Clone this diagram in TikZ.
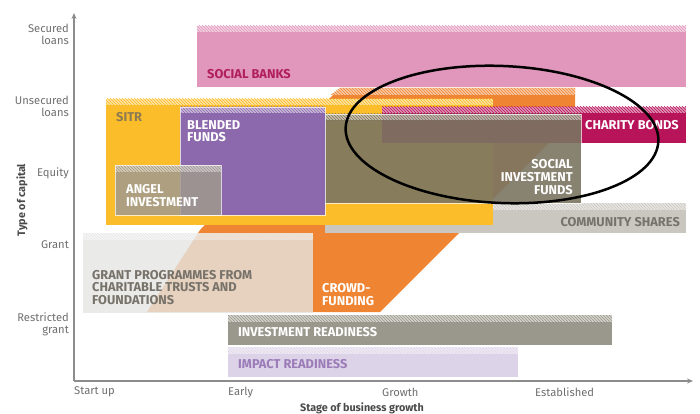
\documentclass[tikz,border=0pt]{standalone}
\usepackage{fontspec}
\setmainfont{Fira Sans}
\usetikzlibrary{patterns,arrows.meta}

\definecolor{bankpink}{HTML}{E196BC}
\definecolor{bankred}{HTML}{B01F5C}
\definecolor{crowdorange}{HTML}{EF8533}
\definecolor{sitryellow}{HTML}{FCBD2A}
\definecolor{sitrtext}{HTML}{8C7B52}
\definecolor{blendpurple}{HTML}{8C69AC}
\definecolor{angelgray}{HTML}{A09A8E}
\definecolor{sifgray}{HTML}{7B7562}
\definecolor{bondred}{HTML}{B8145A}
\definecolor{sharegray}{HTML}{C9C7BF}
\definecolor{sharetext}{HTML}{77736A}
\definecolor{grantgray}{HTML}{E5E5E3}
\definecolor{granttext}{HTML}{77736A}
\definecolor{readygray}{HTML}{9A988C}
\definecolor{impactlilac}{HTML}{DDD3E8}
\definecolor{impacttext}{HTML}{9B7CB8}
\definecolor{axisgray}{HTML}{8C8C8C}
\definecolor{axistext}{HTML}{6E6E6E}
\definecolor{titletext}{HTML}{4A4A4A}

% box with a hatched band along its top edge
% #1,#2 = top-left, #3,#4 = bottom-right, #5 = colour, #6 = opacity
\newcommand\capbox[6]{%
  \fill[#5, fill opacity=#6] (#1,#2+6.5) rectangle (#3,#4);
  \fill[#5!45!white, fill opacity=#6] (#1,#2) rectangle (#3,#2+6.5);
  \fill[pattern=north west lines, pattern color=#5, fill opacity=#6] (#1,#2) rectangle (#3,#2+6.5);
}

\begin{document}
\begin{tikzpicture}[x=1pt,y=-1pt,
  tag/.style={font=\bfseries\fontsize{12.8}{12.6}\selectfont, inner sep=0pt, align=left, anchor=west},
  tagr/.style={font=\bfseries\fontsize{12.8}{12.6}\selectfont, inner sep=0pt, align=right, anchor=east},
  ylab/.style={font=\fontsize{11.2}{12}\selectfont, text=axistext, inner sep=0pt, align=right, anchor=east},
  xlab/.style={font=\fontsize{11.2}{12}\selectfont, text=axistext, inner sep=0pt, anchor=west},
  axistitle/.style={font=\bfseries\fontsize{10.8}{12}\selectfont, text=titletext, inner sep=0pt},
  axis/.style={draw=axisgray, line width=1.1pt, -{Stealth[length=6pt,width=5pt]}},
  edge/.style={draw=white, line width=0.6pt, draw opacity=0.7}]
\useasboundingbox (0,0) rectangle (700,414);

% social banks
\capbox{197}{26}{686}{87}{bankpink}{1}

% crowdfunding band
\fill[crowdorange] (340,88) -- (575,88) -- (575,117) -- (380,312) -- (147,312) -- (200,230) -- cycle;
\begin{scope}
  \clip (340,88) -- (575,88) -- (575,117) -- (300,117) -- cycle;
  \fill[crowdorange!45!white] (300,88) rectangle (575,95);
  \fill[pattern=north west lines, pattern color=crowdorange] (300,88) rectangle (575,95);
\end{scope}

% community shares
\capbox{325}{203}{686}{233}{sharegray}{1}

% SITR
\capbox{106}{99}{493}{225}{sitryellow}{1}

% charity bonds
\capbox{382}{107}{686}{143}{bondred}{1}

% blended funds
\capbox{180}{107}{325}{215}{blendpurple}{1}
\draw[edge] (180,107) rectangle (325,215);

% social investment funds
\capbox{325}{114}{581}{203}{sifgray}{0.9}
\draw[edge] (325,114) rectangle (581,203);

% angel investment
\capbox{115}{165}{221}{215}{angelgray}{0.85}
\draw[edge] (115,165) rectangle (221,215);

% grant programmes
\capbox{83}{233}{313}{313}{grantgray}{0.8}

% readiness programmes
\capbox{228}{315}{612}{345}{readygray}{1}
\capbox{228}{347}{518}{377}{impactlilac}{1}

% labels on the boxes
\node[tag, text=bankred] (sb) at (207,74) {SOCIAL BANKS};
\node[tag, text=sitrtext] (sitr) at (116,117) {SITR};
\node[tag, text=white] (bf) at (187,131) {BLENDED\\FUNDS};
\node[tag, text=white] (ai) at (126,195.5) {ANGEL\\INVESTMENT};
\node[tag, text=white] (cb) at (585,125) {CHARITY BONDS};
\node[tagr, text=white] (sif) at (573,177) {SOCIAL\\INVESTMENT\\FUNDS};
\node[tagr, text=sharetext] (cs) at (680,222) {COMMUNITY SHARES};
\node[tag, text=granttext] (gp) at (92,287.5) {GRANT PROGRAMMES FROM\\CHARITABLE TRUSTS AND\\FOUNDATIONS};
\node[tag, text=white] (cf) at (322,294.5) {CROWD-\\FUNDING};
\node[tag, text=white] (ir) at (238,332) {INVESTMENT READINESS};
\node[tag, text=impacttext] (imp) at (238,364) {IMPACT READINESS};

% highlight ring
\draw[black, line width=2.5pt, rotate around={-2.5:(502,134.5)}] (502,134.5) ellipse [x radius=156.5, y radius=68.5];

% axes
\coordinate (O) at (74,381);
\coordinate (ytip) at (74,13);
\coordinate (xtip) at (693,381);
\draw[axis] (O) -- (ytip);
\draw[axis] (O) -- (xtip);

\node[ylab] (secured) at (69,34) {Secured\\loans};
\node[ylab] (unsecured) at (69,106) {Unsecured\\loans};
\node[ylab] (equity) at (69,173) {Equity};
\node[ylab] (grant) at (69,245) {Grant};
\node[ylab] (restricted) at (69,324) {Restricted\\grant};

\node[xlab] (startup) at (74,392) {Start up};
\node[xlab] (early) at (228,392) {Early};
\node[xlab] (growth) at (382,392) {Growth};
\node[xlab] (established) at (535,392) {Established};

\node[axistitle, rotate=90] (ytitle) at (22,200) {Type of capital};
\node[axistitle] (xtitle) at (362,408) {Stage of business growth};
\end{tikzpicture}
\end{document}
